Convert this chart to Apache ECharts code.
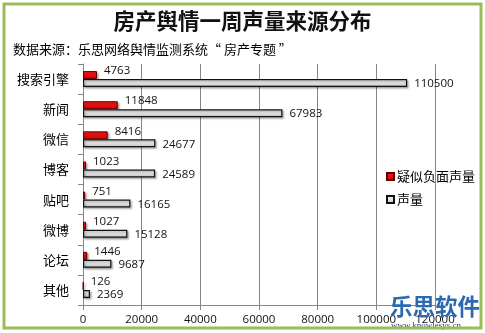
<!DOCTYPE html>
<html>
<head>
<meta charset="utf-8">
<script src="https://cdn.jsdelivr.net/npm/echarts@6/dist/echarts.min.js"></script>
<style>
  html, body { margin: 0; padding: 0; background: #ffffff; }
  #chart { width: 485px; height: 333px; }
</style>
</head>
<body>
<div id="chart"></div>
<script>
// Sources of property-sector online opinion over one week
const categories = ['搜索引擎', '新闻', '微信', '博客', '贴吧', '微博', '论坛', '其他'];
const negativeVolume = [4763, 11848, 8416, 1023, 751, 1027, 1446, 126];
const totalVolume = [110500, 67983, 24677, 24589, 16165, 15128, 9687, 2369];
const seriesNames = ['疑似负面声量', '声量'];
const xTicks = { min: 0, max: 120000, interval: 20000 };

const chart = echarts.init(document.getElementById('chart'), null, { renderer: 'canvas' });

const cjk = '"Noto Sans CJK SC", "Noto Sans", sans-serif';
const num = '"Open Sans", "DejaVu Sans", sans-serif';
const axisGray = '#868686';

const labelStyle = {
  show: true,
  position: 'right',
  distance: 7,
  color: '#111',
  fontFamily: num,
  fontSize: 11.5
};

chart.setOption({
  backgroundColor: '#ffffff',
  animation: false,
  graphic: [
    {
      type: 'rect',
      shape: { x: 4, y: 4, width: 477, height: 324 },
      style: { fill: 'none', stroke: '#9bbb59', lineWidth: 3 },
      z: 100
    },
    {
      type: 'text',
      left: 'center',
      top: 10,
      style: {
        text: '房产舆情一周声量来源分布',
        font: 'bold 21.5px ' + cjk,
        fill: '#111'
      }
    },
    {
      type: 'text',
      left: 13,
      top: 43,
      style: {
        text: '数据来源：乐思网络舆情监测系统“ 房产专题 ”',
        font: '13px ' + cjk,
        fill: '#000'
      }
    },
    {
      type: 'text',
      left: 390,
      top: 295,
      z: 50,
      style: {
        text: '乐思软件',
        font: 'bold 22.5px ' + cjk,
        fill: '#2d69b1'
      }
    },
    {
      type: 'text',
      left: 391,
      top: 321,
      z: 50,
      style: {
        text: 'www.knowlesys.cn',
        font: '9px "Liberation Serif", "DejaVu Serif", serif',
        fill: '#23457f'
      }
    }
  ],
  legend: {
    orient: 'vertical',
    left: 381,
    top: 165,
    itemWidth: 7,
    itemHeight: 7,
    itemGap: 10,
    icon: 'rect',
    textStyle: { fontFamily: cjk, fontSize: 13, color: '#000', padding: [0, 0, 0, -2] },
    data: seriesNames
  },
  grid: {
    left: 83,
    right: 50,
    top: 64,
    bottom: 28,
    containLabel: false
  },
  xAxis: {
    type: 'value',
    min: xTicks.min,
    max: xTicks.max,
    interval: xTicks.interval,
    axisLine: { show: true, lineStyle: { color: axisGray } },
    axisTick: { show: true, length: 5, lineStyle: { color: axisGray } },
    axisLabel: {
      color: '#111',
      fontFamily: num,
      fontSize: 11.5,
      margin: 9,
      formatter: (v) => String(v)
    },
    splitLine: { show: true, lineStyle: { color: axisGray, width: 1 } }
  },
  yAxis: {
    type: 'category',
    inverse: true,
    data: categories,
    axisLine: { show: true, lineStyle: { color: axisGray } },
    axisTick: { show: true, length: 5, lineStyle: { color: axisGray } },
    axisLabel: { color: '#000', fontFamily: cjk, fontSize: 13, margin: 14 }
  },
  series: [
    {
      name: seriesNames[0],
      type: 'bar',
      data: negativeVolume,
      barWidth: 8,
      barGap: '0%',
      itemStyle: {
        color: new echarts.graphic.LinearGradient(0, 0, 0, 1, [
          { offset: 0, color: '#ff2020' },
          { offset: 1, color: '#d00000' }
        ]),
        borderColor: '#600000',
        borderWidth: 1,
        shadowColor: 'rgba(0,0,0,0.3)',
        shadowBlur: 2,
        shadowOffsetX: 1.5,
        shadowOffsetY: 1.5
      },
      label: Object.assign({}, labelStyle, { offset: [0, -4] })
    },
    {
      name: seriesNames[1],
      type: 'bar',
      data: totalVolume,
      barWidth: 8,
      barGap: '0%',
      itemStyle: {
        color: new echarts.graphic.LinearGradient(0, 0, 0, 1, [
          { offset: 0, color: '#f4f4f4' },
          { offset: 0.5, color: '#e2e2e2' },
          { offset: 1, color: '#bdbdbd' }
        ]),
        borderColor: '#111111',
        borderWidth: 1.2,
        shadowColor: 'rgba(0,0,0,0.3)',
        shadowBlur: 2,
        shadowOffsetX: 1.5,
        shadowOffsetY: 1.5
      },
      label: Object.assign({}, labelStyle, { offset: [0, 1] })
    }
  ]
});
</script>
</body>
</html>
